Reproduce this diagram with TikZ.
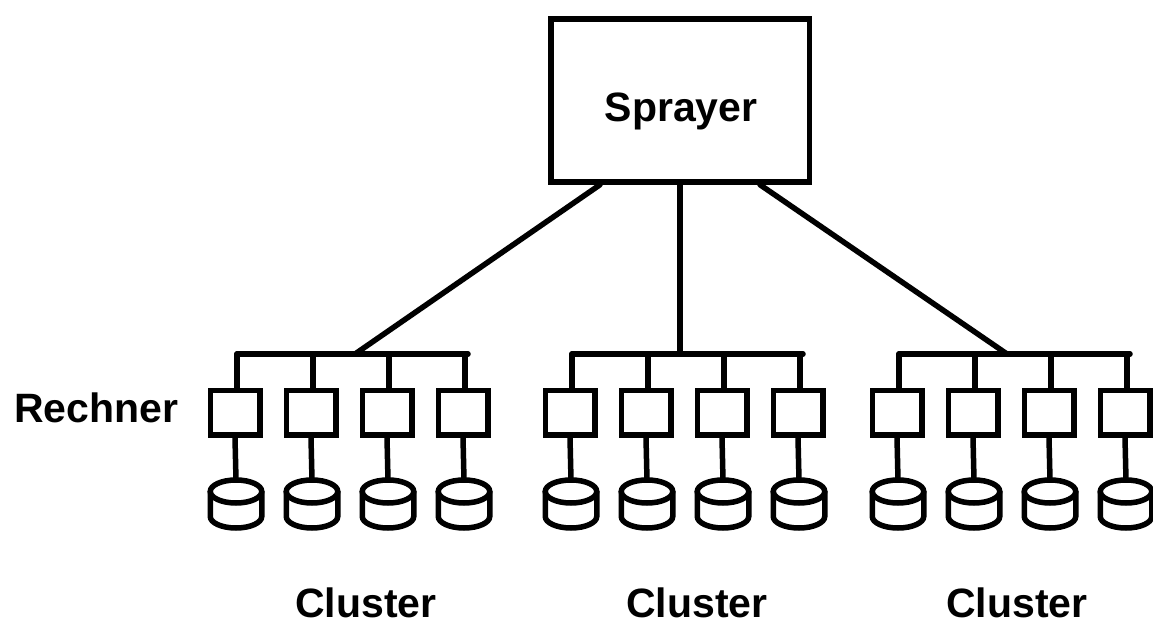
\documentclass[tikz,border=0pt]{standalone}
\usepackage{fontspec}
\setmainfont{Liberation Sans}
\usetikzlibrary{calc}
\begin{document}
\begin{tikzpicture}[x=1pt,y=1pt,
  wire/.style={draw=black,line width=5.5pt,line cap=round},
  rbox/.style={draw=black,line width=5.5pt,minimum width=49.5pt,minimum height=44.5pt,inner sep=0pt},
  sbox/.style={draw=black,line width=5.5pt,minimum width=258.5pt,minimum height=163pt,inner sep=0pt},
  lbl/.style={font=\fontsize{41}{48}\selectfont\bfseries,inner sep=0pt},
  disk/.pic={
    \draw[line width=5.5pt] (0,0) ellipse [x radius=25.75, y radius=11.5];
    \draw[line width=5.5pt] (-25.75,0) -- (-25.75,-25) arc [start angle=180, end angle=360, x radius=25.75, y radius=11.5] -- (25.75,0);
    \coordinate (-top) at (0,11.5);
  }]
\useasboundingbox (0,0) rectangle (1153,626);
% Sprayer
\node[sbox] (spr) at (680,525.5) {};
\node[lbl,anchor=base] (sprtxt) at (681,504) {Sprayer};
\coordinate (sprL) at ([xshift=-80pt]spr.south);
\coordinate (sprR) at ([xshift=80pt]spr.south);
% hubs on the buses
\coordinate (hub1) at (355,272);
\coordinate (hub2) at (680,272);
\coordinate (hub3) at (1007,272);
\draw[wire] (sprL) -- (hub1);
\draw[wire] (spr.south) -- (hub2);
\draw[wire] (sprR) -- (hub3);
% clusters
\foreach \c/\xo in {1/235,2/570,3/897}{
  \coordinate (busL\c) at (\xo+2,272);
  \coordinate (busR\c) at (\xo+233,272);
  \draw[wire] (busL\c) -- (busR\c);
  \foreach \i in {0,1,2,3}{
    \node[rbox] (b\c\i) at (\xo+76*\i,213) {};
    \pic (d\c\i) at (\xo+76*\i+1,134.5) {disk};
    \draw[wire] ([xshift=2pt]b\c\i.north) -- ([xshift=2pt]b\c\i.north |- busL\c);
    \draw[wire] (b\c\i.south) -- (d\c\i-top);
  }
}
% labels
\node[lbl,anchor=base west] (rech) at (14,203) {Rechner};
\node[lbl,anchor=base] (cl1) at (366,9) {Cluster};
\node[lbl,anchor=base] (cl2) at (697,9) {Cluster};
\node[lbl,anchor=base] (cl3) at (1017,9) {Cluster};
\end{tikzpicture}
\end{document}
